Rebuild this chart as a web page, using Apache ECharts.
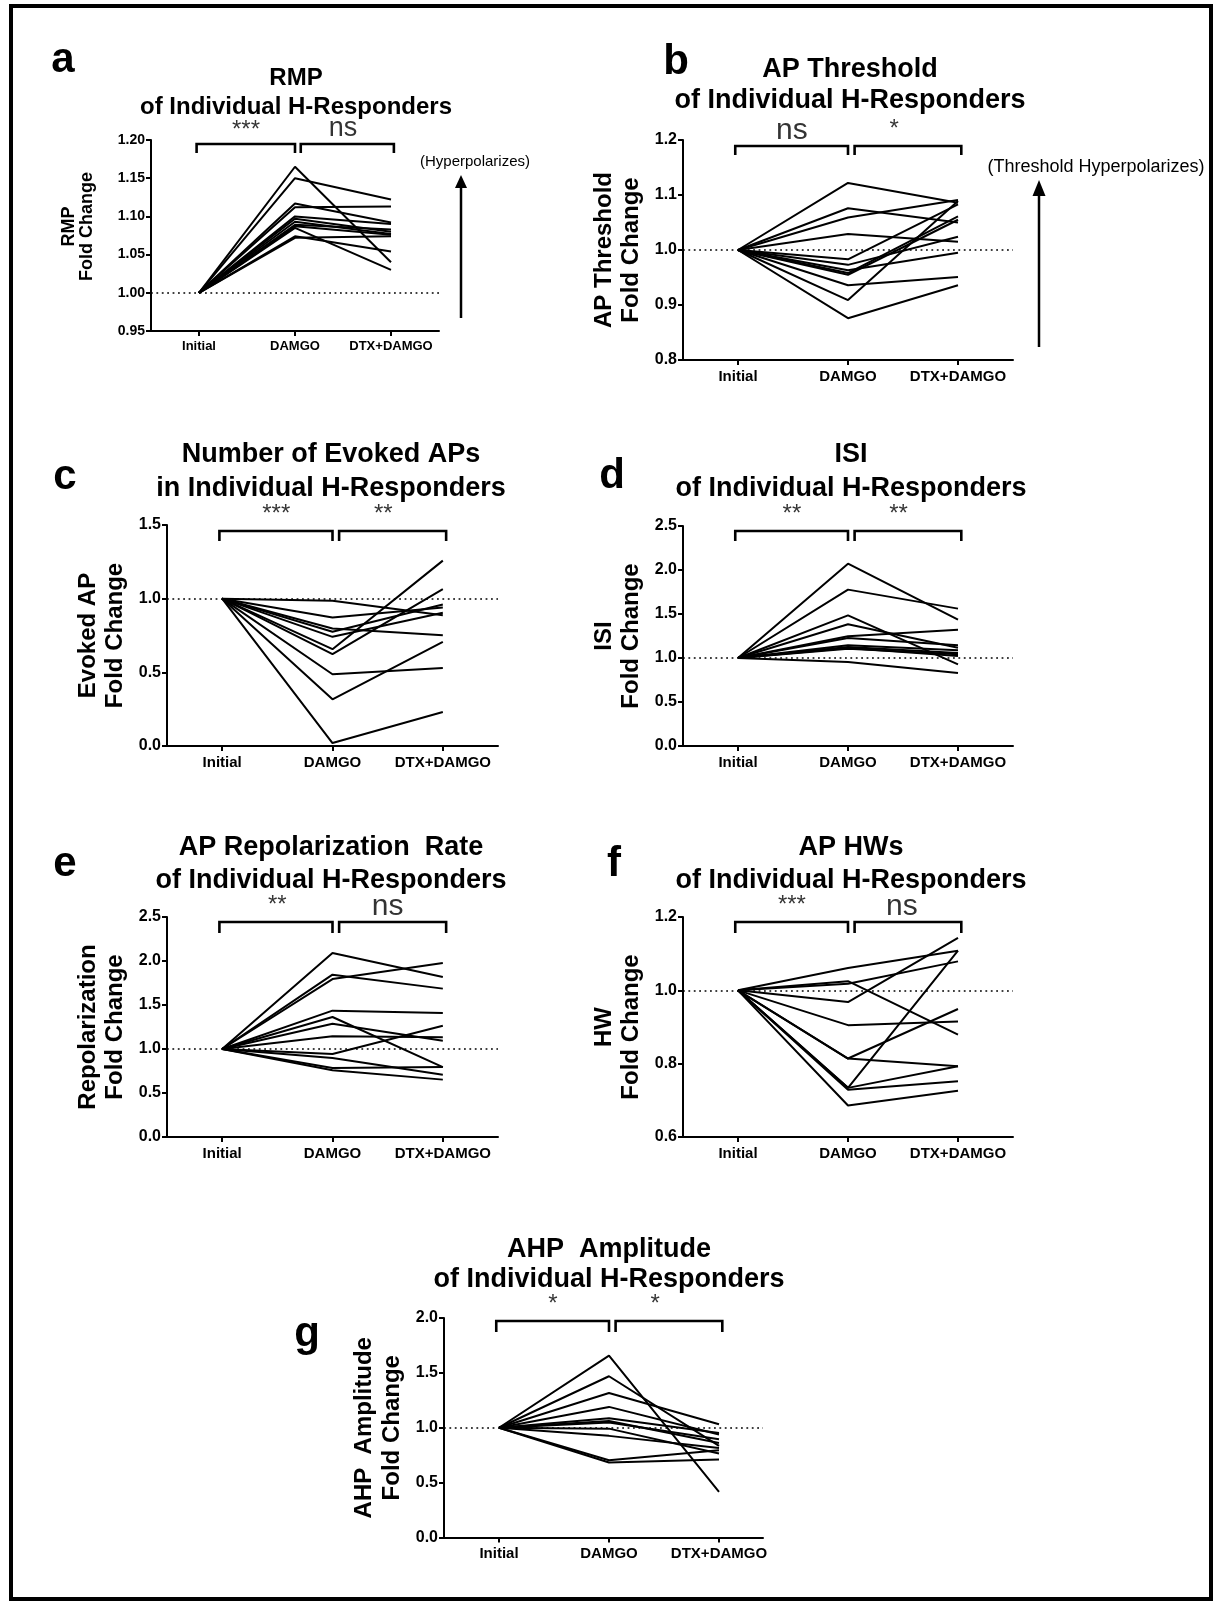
<!DOCTYPE html>
<html>
<head>
<meta charset="utf-8">
<title>Fold changes of individual H-responders</title>
<script src="https://cdn.jsdelivr.net/npm/echarts@6/dist/echarts.min.js"></script>
<style>
  html, body { margin: 0; padding: 0; background: #fff; }
  #chart { width: 1214px; height: 1602px; }
</style>
</head>
<body>
<div id="chart"></div>
<script>
// ---- conditions on the x axis ----
const categories = ['Initial', 'DAMGO', 'DTX+DAMGO'];

// ---- (a) resting membrane potential, fold change per cell ----
const rmpInitial = [1, 1, 1, 1, 1, 1, 1, 1, 1, 1, 1, 1];
const rmpDamgo   = [1.165, 1.150, 1.117, 1.112, 1.100, 1.097, 1.093, 1.089, 1.087, 1.085, 1.074, 1.072];
const rmpDtx     = [1.040, 1.122, 1.092, 1.113, 1.090, 1.080, 1.077, 1.083, 1.076, 1.030, 1.054, 1.074];
const rmpTicks   = [0.95, 1.00, 1.05, 1.10, 1.15, 1.20];

// ---- (b) AP threshold ----
const thrInitial = [1, 1, 1, 1, 1, 1, 1, 1, 1, 1, 1, 1];
const thrDamgo   = [1.122, 1.076, 1.059, 1.029, 0.983, 0.973, 0.963, 0.958, 0.955, 0.936, 0.909, 0.876];
const thrDtx     = [1.086, 1.050, 1.091, 1.015, 1.083, 1.024, 0.995, 1.061, 1.055, 0.951, 1.089, 0.936];
const thrTicks   = [0.8, 0.9, 1.0, 1.1, 1.2];

// ---- (c) number of evoked APs ----
const apsInitial = [1, 1, 1, 1, 1, 1, 1, 1, 1, 1];
const apsDamgo   = [0.986, 0.872, 0.798, 0.775, 0.741, 0.657, 0.623, 0.487, 0.317, 0.020];
const apsDtx     = [0.888, 0.940, 0.752, 0.961, 0.904, 1.258, 1.065, 0.530, 0.707, 0.231];
const apsTicks   = [0.0, 0.5, 1.0, 1.5];

// ---- (d) inter-spike interval ----
const isiInitial = [1, 1, 1, 1, 1, 1, 1, 1, 1, 1, 1];
const isiDamgo   = [2.072, 1.777, 1.485, 1.383, 1.246, 1.227, 1.144, 1.125, 1.115, 1.106, 0.955];
const isiDtx     = [1.436, 1.561, 0.928, 1.117, 1.322, 1.144, 1.087, 1.057, 1.023, 1.042, 0.830];
const isiTicks   = [0.0, 0.5, 1.0, 1.5, 2.0, 2.5];

// ---- (e) AP repolarization rate ----
const repInitial = [1, 1, 1, 1, 1, 1, 1, 1, 1, 1, 1];
const repDamgo   = [2.091, 1.845, 1.795, 1.436, 1.364, 1.288, 1.144, 0.943, 0.898, 0.784, 0.758];
const repDtx     = [1.818, 1.686, 1.977, 1.409, 0.795, 1.095, 1.133, 1.265, 0.708, 0.795, 0.652];
const repTicks   = [0.0, 0.5, 1.0, 1.5, 2.0, 2.5];

// ---- (f) AP half-width ----
const hwInitial = [1, 1, 1, 1, 1, 1, 1, 1, 1, 1, 1];
const hwDamgo   = [1.061, 1.025, 1.018, 0.968, 0.905, 0.814, 0.814, 0.734, 0.734, 0.729, 0.686];
const hwDtx     = [1.108, 0.879, 1.079, 1.143, 0.915, 0.949, 0.793, 1.108, 0.793, 0.752, 0.726];
const hwTicks   = [0.6, 0.8, 1.0, 1.2];

// ---- (g) AHP amplitude ----
const ahpInitial = [1, 1, 1, 1, 1, 1, 1, 1, 1, 1, 1];
const ahpDamgo   = [1.657, 1.469, 1.317, 1.190, 1.086, 1.062, 1.047, 0.992, 0.926, 0.704, 0.683];
const ahpDtx     = [0.416, 0.835, 1.032, 0.938, 0.953, 0.862, 0.895, 0.765, 0.816, 0.795, 0.710];
const ahpTicks   = [0.0, 0.5, 1.0, 1.5, 2.0];

// ---- significance marks (Initial vs DAMGO, DAMGO vs DTX+DAMGO) ----
const rmpSig = ['***', 'ns'];
const thrSig = ['ns', '*'];
const apsSig = ['***', '**'];
const isiSig = ['**', '**'];
const repSig = ['**', 'ns'];
const hwSig  = ['***', 'ns'];
const ahpSig = ['*', '*'];

const FONT = '"Liberation Sans", Arial, Helvetica, sans-serif';

// Layout of each panel (pixels) and its text
const panels = [
  { letter: 'a', letterXY: [63, 60], title: ['RMP', 'of Individual H-Responders'], titleX: 296, titleY: [78, 107], titleSize: 24,
    yName: 'RMP\nFold Change', yNameSize: 18, yNameLH: 18, yNameGap: 55, yNameShift: 18,
    grid: { left: 151, top: 140, width: 288, height: 191 }, xMax: 2.5,
    ticks: rmpTicks, dec: 2, tickFont: 14, catFont: 13,
    init: rmpInitial, damgo: rmpDamgo, dtx: rmpDtx, sig: rmpSig, sigX: [0.49, 1.5],
    brTop: 4, brLeg: 9, starSize: 24, nsSize: 27, starOff: -14 },
  { letter: 'b', letterXY: [676, 62], title: ['AP Threshold', 'of Individual H-Responders'], titleX: 850, titleY: [70, 101], titleSize: 27,
    yName: 'AP Threshold\nFold Change', yNameSize: 24, yNameLH: 27, yNameGap: 38, yNameShift: 0,
    grid: { left: 683, top: 140, width: 330, height: 220 }, xMax: 2.5,
    ticks: thrTicks, dec: 1, tickFont: 16, catFont: 15,
    init: thrInitial, damgo: thrDamgo, dtx: thrDtx, sig: thrSig, sigX: [0.49, 1.42],
    brTop: 6, brLeg: 9, starSize: 24, nsSize: 30, starOff: -17 },
  { letter: 'c', letterXY: [65, 477], title: ['Number of Evoked APs', 'in Individual H-Responders'], titleX: 331, titleY: [455, 489], titleSize: 27,
    yName: 'Evoked AP\nFold Change', yNameSize: 24, yNameLH: 27, yNameGap: 38, yNameShift: 0,
    grid: { left: 167, top: 525, width: 331, height: 221 }, xMax: 2.5,
    ticks: apsTicks, dec: 1, tickFont: 16, catFont: 15,
    init: apsInitial, damgo: apsDamgo, dtx: apsDtx, sig: apsSig, sigX: [0.49, 1.46],
    brTop: 6, brLeg: 10, starSize: 24, nsSize: 30, starOff: -17 },
  { letter: 'd', letterXY: [612, 476], title: ['ISI', 'of Individual H-Responders'], titleX: 851, titleY: [455, 489], titleSize: 27,
    yName: 'ISI\nFold Change', yNameSize: 24, yNameLH: 27, yNameGap: 38, yNameShift: 0,
    grid: { left: 683, top: 526, width: 330, height: 220 }, xMax: 2.5,
    ticks: isiTicks, dec: 1, tickFont: 16, catFont: 15,
    init: isiInitial, damgo: isiDamgo, dtx: isiDtx, sig: isiSig, sigX: [0.49, 1.46],
    brTop: 5, brLeg: 10, starSize: 24, nsSize: 30, starOff: -17 },
  { letter: 'e', letterXY: [65, 864], title: ['AP Repolarization  Rate', 'of Individual H-Responders'], titleX: 331, titleY: [848, 881], titleSize: 27,
    yName: 'Repolarization\nFold Change', yNameSize: 24, yNameLH: 27, yNameGap: 38, yNameShift: 0,
    grid: { left: 167, top: 917, width: 331, height: 220 }, xMax: 2.5,
    ticks: repTicks, dec: 1, tickFont: 16, catFont: 15,
    init: repInitial, damgo: repDamgo, dtx: repDtx, sig: repSig, sigX: [0.5, 1.5],
    brTop: 5, brLeg: 11, starSize: 24, nsSize: 30, starOff: -17 },
  { letter: 'f', letterXY: [614, 864], title: ['AP HWs', 'of Individual H-Responders'], titleX: 851, titleY: [848, 881], titleSize: 27,
    yName: 'HW\nFold Change', yNameSize: 24, yNameLH: 27, yNameGap: 38, yNameShift: 0,
    grid: { left: 683, top: 917, width: 330, height: 220 }, xMax: 2.5,
    ticks: hwTicks, dec: 1, tickFont: 16, catFont: 15,
    init: hwInitial, damgo: hwDamgo, dtx: hwDtx, sig: hwSig, sigX: [0.49, 1.49],
    brTop: 5, brLeg: 11, starSize: 24, nsSize: 30, starOff: -17 },
  { letter: 'g', letterXY: [307, 1334], title: ['AHP  Amplitude', 'of Individual H-Responders'], titleX: 609, titleY: [1250, 1280], titleSize: 27,
    yName: 'AHP  Amplitude\nFold Change', yNameSize: 24, yNameLH: 28, yNameGap: 38, yNameShift: 0,
    grid: { left: 444, top: 1318, width: 319, height: 219.5 }, xMax: 2.4,
    ticks: ahpTicks, dec: 1, tickFont: 16, catFont: 15,
    init: ahpInitial, damgo: ahpDamgo, dtx: ahpDtx, sig: ahpSig, sigX: [0.49, 1.42],
    brTop: 3, brLeg: 11, starSize: 24, nsSize: 30, starOff: -17 }
];

const grids = [], xAxes = [], yAxes = [], series = [], graphic = [];
const black = '#000';

panels.forEach((p, i) => {
  const yMin = p.ticks[0];
  const yMax = p.ticks[p.ticks.length - 1];
  const yStep = Math.round((p.ticks[1] - p.ticks[0]) * 1e6) / 1e6;
  const pxPerUnit = p.grid.height / (yMax - yMin);

  grids.push(Object.assign({ containLabel: false }, p.grid));

  xAxes.push({
    gridIndex: i, type: 'value', min: -0.5, max: p.xMax,
    axisLine: { show: true, onZero: false, lineStyle: { color: black, width: 2 } },
    axisTick: { show: true, customValues: [0, 1, 2], length: 5, lineStyle: { color: black, width: 2 } },
    axisLabel: {
      show: true, customValues: [0, 1, 2], margin: 9,
      formatter: v => categories[Math.round(v)],
      color: black, fontWeight: 'bold', fontSize: p.catFont, fontFamily: FONT
    },
    splitLine: { show: false }
  });

  yAxes.push({
    gridIndex: i, type: 'value', min: yMin, max: yMax, interval: yStep,
    name: p.yName, nameLocation: 'middle', nameRotate: 90, nameGap: p.yNameGap,
    nameTextStyle: { color: black, fontWeight: 'bold', fontSize: p.yNameSize, lineHeight: p.yNameLH,
                     fontFamily: FONT, padding: [0, 0, 0, p.yNameShift] },
    axisLine: { show: true, onZero: false, lineStyle: { color: black, width: 2 } },
    axisTick: { show: true, length: 5, lineStyle: { color: black, width: 2 } },
    axisLabel: {
      margin: 6, formatter: v => v.toFixed(p.dec),
      color: black, fontWeight: 'bold', fontSize: p.tickFont, fontFamily: FONT
    },
    splitLine: { show: false }
  });

  // one line per cell: Initial -> DAMGO -> DTX+DAMGO
  p.damgo.forEach((d, k) => {
    const s = {
      type: 'line', xAxisIndex: i, yAxisIndex: i, silent: true,
      symbol: 'none', animation: false, z: 3,
      lineStyle: { color: black, width: 2 },
      data: [[0, p.init[k]], [1, d], [2, p.dtx[k]]]
    };
    if (k === 0) {
      // dotted baseline at fold change = 1
      s.markLine = {
        silent: true, symbol: ['none', 'none'], animation: false,
        label: { show: false },
        lineStyle: { color: black, width: 1.6, type: [1.8, 3.6] },
        data: [{ yAxis: 1 }]
      };
    }
    series.push(s);
  });

  // comparison brackets
  const yTop = yMax - p.brTop / pxPerUnit;
  const yLeg = yTop - p.brLeg / pxPerUnit;
  [[-0.025, 1.0], [1.06, 2.03]].forEach(([x0, x1]) => {
    series.push({
      type: 'line', xAxisIndex: i, yAxisIndex: i, silent: true, symbol: 'none',
      animation: false, clip: false, z: 4,
      lineStyle: { color: black, width: 2.6, join: 'miter' },
      data: [[x0, yLeg], [x0, yTop], [x1, yTop], [x1, yLeg]]
    });
  });

  // significance text above each bracket
  series.push({
    type: 'scatter', xAxisIndex: i, yAxisIndex: i, silent: true, symbolSize: 0,
    animation: false, clip: false, z: 5,
    data: p.sig.map((t, j) => {
      const isNs = t === 'ns';
      return {
        value: [p.sigX[j], yTop],
        label: {
          show: true, position: 'inside', formatter: t,
          offset: [0, isNs ? -15 : p.starOff],
          color: black, fontFamily: FONT, fontWeight: 'normal',
          fontSize: isNs ? p.nsSize : p.starSize
        }
      };
    })
  });

  // panel letter
  graphic.push({
    type: 'text', silent: true,
    style: { text: p.letter, x: p.letterXY[0], y: p.letterXY[1], textAlign: 'center', textVerticalAlign: 'middle',
             align: 'center', verticalAlign: 'middle', fill: black,
             font: 'bold 42px ' + FONT }
  });
  // panel title, two lines
  p.title.forEach((line, j) => {
    graphic.push({
      type: 'text', silent: true,
      style: { text: line, x: p.titleX, y: p.titleY[j], textAlign: 'center', textVerticalAlign: 'middle',
               align: 'center', verticalAlign: 'middle', fill: black,
               font: 'bold ' + p.titleSize + 'px ' + FONT }
    });
  });
});

// direction arrows and their captions
function arrow(x, yBottom, yTip, headW, headH, caption, capX, capY, capSize) {
  graphic.push({ type: 'line', silent: true, shape: { x1: x, y1: yBottom, x2: x, y2: yTip + headH - 1 },
                 style: { stroke: black, lineWidth: 2.5 } });
  graphic.push({ type: 'polygon', silent: true,
                 shape: { points: [[x - headW / 2, yTip + headH], [x + headW / 2, yTip + headH], [x, yTip]] },
                 style: { fill: black } });
  graphic.push({ type: 'text', silent: true,
                 style: { text: caption, x: capX, y: capY, textAlign: 'center', textVerticalAlign: 'middle',
                          align: 'center', verticalAlign: 'middle', fill: black,
                          font: capSize + 'px ' + FONT } });
}
arrow(461, 318, 175, 12, 13, '(Hyperpolarizes)', 475, 162, 15);
arrow(1039, 347, 180, 13, 16, '(Threshold Hyperpolarizes)', 1096, 167, 18);

// figure frame
graphic.push({ type: 'rect', silent: true, z: 100,
               shape: { x: 11, y: 6, width: 1200, height: 1593 },
               style: { fill: 'none', stroke: black, lineWidth: 4 } });

const chart = echarts.init(document.getElementById('chart'), null, { renderer: 'canvas' });
chart.setOption({
  backgroundColor: '#fff',
  animation: false,
  textStyle: { fontFamily: FONT },
  grid: grids,
  xAxis: xAxes,
  yAxis: yAxes,
  series: series,
  graphic: graphic
});
</script>
</body>
</html>
